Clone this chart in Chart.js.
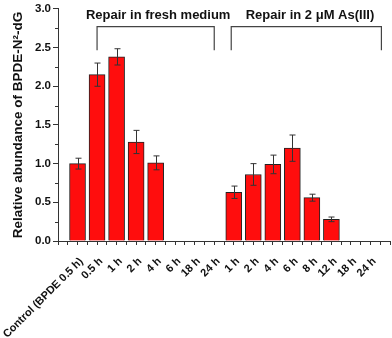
<!DOCTYPE html>
<html>
<head>
<meta charset="utf-8">
<script src="https://cdn.jsdelivr.net/npm/chart.js@4/dist/chart.umd.min.js"></script>
<style>
html,body{margin:0;padding:0;background:#fff;}
canvas{display:block;}
</style>
</head>
<body>
<canvas id="c" width="392" height="338"></canvas>
<script>
const categories = ["Control (BPDE 0.5 h)", "0.5 h", "1 h", "2 h", "4 h", "6 h", "18 h", "24 h",
                    "1 h", "2 h", "4 h", "6 h", "8 h", "12 h", "18 h", "24 h"];
const values = [1.00, 2.15, 2.38, 1.28, 1.01, 0, 0, 0,
                0.63, 0.86, 0.99, 1.20, 0.56, 0.28, 0, 0];
const errors = [0.07, 0.15, 0.105, 0.15, 0.09, 0, 0, 0,
                0.08, 0.14, 0.12, 0.17, 0.045, 0.03, 0, 0];
const yTicks = [0.0, 0.5, 1.0, 1.5, 2.0, 2.5, 3.0];
const yMinorTicks = [0.25, 0.75, 1.25, 1.75, 2.25, 2.75];
const groupTitles = ["Repair in fresh medium", "Repair in 2 μM As(III)"];
// brackets: [startX, endX, lineY, legBottomY, titleX, titleY] in data units
const brackets = [
  [2, 8, 2.77, 2.465, 5.13, 2.92],
  [8.87, 16.56, 2.77, 2.465, 12.9, 2.92]
];
const yTitle = "Relative abundance of BPDE-N²-dG";

const FONT = "'Liberation Sans', Arial, Helvetica, sans-serif";
const AX = '#333333';

const points = values.map((v, i) => ({x: i + 1, y: v}));

const extras = {
  id: 'extras',
  afterDatasetsDraw(chart) {
    const ctx = chart.ctx, xs = chart.scales.x, ys = chart.scales.y;
    ctx.save();
    // minor y ticks (shorter)
    ctx.strokeStyle = AX;
    ctx.lineWidth = 1;
    ctx.beginPath();
    yMinorTicks.forEach(v => {
      const py = Math.round(ys.getPixelForValue(v)) + 0.5;
      ctx.moveTo(ys.right - 3, py); ctx.lineTo(ys.right, py);
    });
    ctx.stroke();
    // error bars
    ctx.strokeStyle = '#333';
    values.forEach((v, i) => {
      const e = errors[i];
      if (!e) return;
      const px = Math.round(xs.getPixelForValue(i + 1)) + 0.5;
      const t = ys.getPixelForValue(v + e), b = ys.getPixelForValue(v - e);
      ctx.beginPath();
      ctx.moveTo(px, t); ctx.lineTo(px, b);
      ctx.moveTo(px - 3, t); ctx.lineTo(px + 3, t);
      ctx.moveTo(px - 3, b); ctx.lineTo(px + 3, b);
      ctx.stroke();
    });
    // brackets and group titles
    ctx.strokeStyle = '#444';
    ctx.lineWidth = 1.2;
    ctx.fillStyle = '#111';
    ctx.font = 'bold 13px ' + FONT;
    ctx.textAlign = 'center';
    ctx.textBaseline = 'middle';
    brackets.forEach((br, k) => {
      const x1 = xs.getPixelForValue(br[0]), x2 = xs.getPixelForValue(br[1]);
      const yl = ys.getPixelForValue(br[2]), yb = ys.getPixelForValue(br[3]);
      ctx.beginPath();
      ctx.moveTo(x1, yb); ctx.lineTo(x1, yl); ctx.lineTo(x2, yl); ctx.lineTo(x2, yb);
      ctx.stroke();
      ctx.fillText(groupTitles[k], xs.getPixelForValue(br[4]), ys.getPixelForValue(br[5]));
    });
    ctx.restore();
  }
};

new Chart(document.getElementById('c'), {
  type: 'bar',
  data: {
    datasets: [{
      data: points,
      backgroundColor: '#ff0d0d',
      borderColor: '#222',
      borderWidth: 1,
      barThickness: 16
    }]
  },
  options: {
    responsive: false,
    devicePixelRatio: 1,
    animation: false,
    layout: {padding: {top: 6, right: 2, left: 0, bottom: 0}},
    plugins: {legend: {display: false}, tooltip: {enabled: false}},
    scales: {
      x: {
        type: 'linear',
        min: 0, max: 17,
        offset: false,
        afterFit(s) { s.height = 97; s.paddingLeft = 0; s.paddingRight = 0; },
        border: {color: AX, width: 1},
        grid: {drawOnChartArea: false, tickLength: 4, color: AX, offset: false},
        ticks: {
          stepSize: 0.5,
          maxTicksLimit: 100,
          autoSkip: false,
          minRotation: 45, maxRotation: 45,
          padding: 10,
          labelOffset: 4,
          color: '#111',
          font: {family: FONT, weight: 'bold', size: 11},
          callback(v) {
            if (Number.isInteger(v) && v >= 1 && v <= categories.length) return categories[v - 1];
            return '';
          }
        }
      },
      y: {
        min: 0, max: 3,
        afterFit(s) { s.width = 58; },
        border: {color: AX, width: 1},
        grid: {drawOnChartArea: false, tickLength: 5, color: AX},
        title: {display: true, text: yTitle, color: '#111', padding: {top: 10, bottom: 0},
                font: {family: FONT, weight: 'bold', size: 13.5}},
        ticks: {
          stepSize: 0.5,
          padding: 2,
          color: '#111',
          font: {family: FONT, weight: 'bold', size: 11.5},
          callback(v) {
            const m = yTicks.find(t => Math.abs(t - v) < 1e-9);
            return m === undefined ? '' : m.toFixed(1);
          }
        }
      }
    }
  },
  plugins: [extras]
});
</script>
</body>
</html>
